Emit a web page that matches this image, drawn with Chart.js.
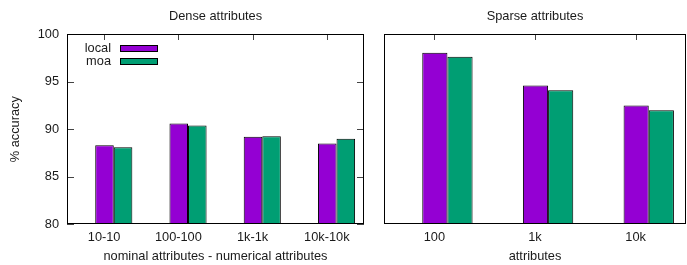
<!DOCTYPE html>
<html lang="en">
<head>
  <meta charset="UTF-8">
  <title>Dense / sparse attributes accuracy</title>
  <script src="https://cdn.jsdelivr.net/npm/chart.js@4.4.1/dist/chart.umd.min.js"></script>
  <style>
    body { margin: 0; padding: 0; background: #fff; }
    #wrap { position: relative; width: 687px; height: 265px; }
    .panel { position: absolute; top: 0; height: 265px; }
    #densePanel { left: 0; width: 372px; }
    #sparsePanel { left: 372px; width: 315px; }
  </style>
</head>
<body>
  <div id="wrap">
    <div class="panel" id="densePanel"><canvas id="dense"></canvas></div>
    <div class="panel" id="sparsePanel"><canvas id="sparse"></canvas></div>
  </div>

  <script>
    // values
    const denseLabels = ['10-10', '100-100', '1k-1k', '10k-10k'];
    const denseLocal = [88.3, 90.6, 89.2, 88.5];
    const denseMoa = [88.1, 90.4, 89.25, 89.0];

    const sparseLabels = ['100', '1k', '10k'];
    const sparseLocal = [98.05, 94.6, 92.5];
    const sparseMoa = [97.65, 94.1, 92.0];

    const yTicks = [80, 85, 90, 95, 100];
    const seriesNames = ['local', 'moa'];
    const seriesColors = ['#9400d3', '#009e73'];

    const FONT = { family: "'Liberation Sans', Arial, sans-serif", size: 12.8 };
    const TEXT = '#1a1a1a';
    // gnuplot puts the bar cluster a little right of the tick
    const barShift = 0.13;

    function hline(ctx, x0, x1, y) { ctx.fillRect(Math.min(x0, x1), y, Math.abs(x1 - x0), 1); }
    function vline(ctx, x, y0, y1) { ctx.fillRect(x, Math.min(y0, y1), 1, Math.abs(y1 - y0)); }

    // frame, inward tick marks and gnuplot-style key
    const framePlugin = {
      id: 'frame',
      afterDraw(chart, args, opts) {
        const ctx = chart.ctx, a = chart.chartArea;
        const xs = chart.scales.x, ys = chart.scales.y;
        const L = Math.round(a.left), R = Math.round(a.right) - 1;
        const T = Math.round(a.top), B = Math.round(a.bottom) - 1;
        ctx.save();
        ctx.fillStyle = '#444';
        xs.ticks.forEach(t => {
          const px = Math.round(xs.getPixelForValue(t.value));
          vline(ctx, px, T, T + 6);
        });
        if (opts.yTicks) {
          ys.ticks.forEach(t => {
            const py = Math.round(ys.getPixelForValue(t.value));
            hline(ctx, L, L + 7, py);
            hline(ctx, R - 6, R + 1, py);
          });
        }
        ctx.fillStyle = '#000';
        hline(ctx, L, R + 1, T);
        hline(ctx, L, R + 1, B);
        vline(ctx, L, T, B + 1);
        vline(ctx, R, T, B + 1);

        if (opts.legend) {
          ctx.font = FONT.size + 'px ' + FONT.family;
          ctx.textAlign = 'right';
          ctx.textBaseline = 'middle';
          chart.data.datasets.forEach((ds, i) => {
            const cy = Math.round(a.top + 13.5 + i * 13);
            ctx.fillStyle = TEXT;
            ctx.fillText(ds.label, L + 44, cy);
            ctx.fillStyle = '#000';
            ctx.fillRect(L + 53, cy - 3, 38, 7);
            ctx.fillStyle = ds.backgroundColor;
            ctx.fillRect(L + 54, cy - 2, 36, 5);
          });
        }
        ctx.restore();
      }
    };

    function makeChart(id, title, labels, local, moa, xTitle, leftAxis, padding) {
      const series = [local, moa];
      return new Chart(document.getElementById(id), {
        type: 'bar',
        data: {
          datasets: series.map((vals, s) => ({
            label: seriesNames[s],
            data: vals.map((v, i) => ({ x: i + barShift, y: v })),
            backgroundColor: seriesColors[s],
            borderColor: '#000',
            borderWidth: 1,
            borderSkipped: 'start',
            categoryPercentage: 0.5,
            barPercentage: 1
          }))
        },
        options: {
          responsive: true,
          maintainAspectRatio: false,
          animation: false,
          layout: { padding: padding },
          scales: {
            x: {
              type: 'linear',
              min: -0.5,
              max: labels.length - 0.5,
              offset: false,
              grid: { display: false, drawTicks: false },
              border: { display: false },
              afterBuildTicks: s => { s.ticks = labels.map((_, i) => ({ value: i })); },
              afterFit: s => { s.height = 41; },
              ticks: {
                autoSkip: false,
                maxRotation: 0,
                padding: 6,
                color: TEXT,
                font: FONT,
                callback: v => labels[v]
              },
              title: { display: true, text: xTitle, color: TEXT, font: FONT, padding: { top: 0, bottom: 1 } }
            },
            y: {
              display: leftAxis,
              min: 80,
              max: 100,
              grid: { display: false, drawTicks: false },
              border: { display: false },
              afterBuildTicks: s => { s.ticks = yTicks.map(v => ({ value: v })); },
              afterFit: s => { s.width = leftAxis ? 67 : 0; },
              ticks: { padding: 8, color: TEXT, font: FONT },
              title: { display: true, text: '% accuracy', color: TEXT, font: FONT, padding: { top: 8, bottom: 0 } }
            }
          },
          plugins: {
            legend: { display: false },
            tooltip: { enabled: false },
            title: {
              display: true,
              text: title,
              fullSize: false,
              color: TEXT,
              font: { family: FONT.family, size: FONT.size, weight: 'normal' },
              padding: { top: 9, bottom: 10 }
            },
            frame: { legend: leftAxis, yTicks: leftAxis }
          }
        },
        plugins: [framePlugin]
      });
    }

    makeChart('dense', 'Dense attributes', denseLabels, denseLocal, denseMoa,
      'nominal attributes - numerical attributes', true, { left: 0, right: 8, top: 0, bottom: 0 });
    makeChart('sparse', 'Sparse attributes', sparseLabels, sparseLocal, sparseMoa,
      'attributes', false, { left: 12, right: 1, top: 0, bottom: 0 });
  </script>
</body>
</html>
